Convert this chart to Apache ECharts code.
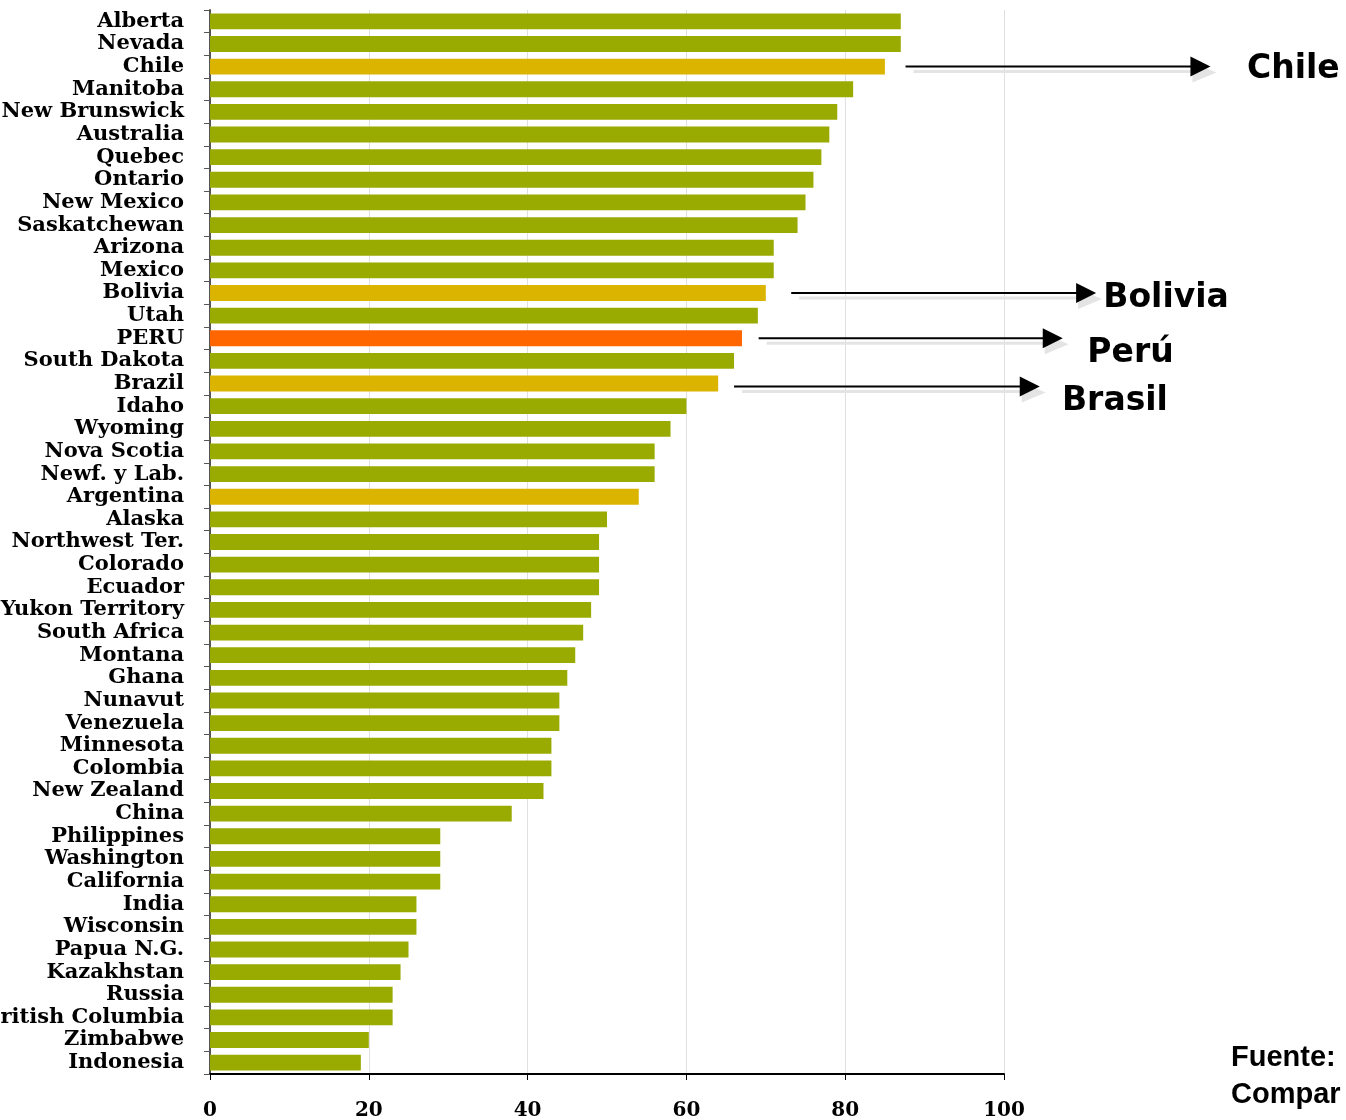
<!DOCTYPE html>
<html>
<head>
<meta charset="utf-8">
<script src="https://cdn.jsdelivr.net/npm/echarts@6/dist/echarts.min.js"></script>
<style>
html,body{margin:0;padding:0;background:#fff;}
#chart{width:1346px;height:1120px;}
</style>
</head>
<body>
<div id="chart"></div>
<script>
var categories = ['Alberta','Nevada','Chile','Manitoba','New Brunswick','Australia','Quebec','Ontario','New Mexico','Saskatchewan','Arizona','Mexico','Bolivia','Utah','PERU','South Dakota','Brazil','Idaho','Wyoming','Nova Scotia','Newf. y Lab.','Argentina','Alaska','Northwest Ter.','Colorado','Ecuador','Yukon Territory','South Africa','Montana','Ghana','Nunavut','Venezuela','Minnesota','Colombia','New Zealand','China','Philippines','Washington','California','India','Wisconsin','Papua N.G.','Kazakhstan','Russia','British Columbia','Zimbabwe','Indonesia'];
var values = [87,87,85,81,79,78,77,76,75,74,71,71,70,69,67,66,64,60,58,56,56,54,50,49,49,49,48,47,46,45,44,44,43,43,42,38,29,29,29,26,26,25,24,23,23,20,19];
var goldCategories = ['Chile','Bolivia','Brazil','Argentina'];
var orangeCategories = ['PERU'];
var xTicks = [0,20,40,60,80,100];

// annotations
var annCategories = ['Chile','Bolivia','PERU','Brazil'];
var annLabels = ['Chile','Bolivia','Perú','Brasil'];
var annStart = [87.6,73.2,69.1,66.0];
var annEnd = [126.0,111.6,107.4,104.5];
var annArrowDy = [0,0,0,3];
var annTextX = [130.6,112.5,110.5,107.3];
var annTextDy = [3,5,15,18];

var GREEN = '#99AA00', GOLD = '#DBB400', ORANGE = '#FF6600';

var chart = echarts.init(document.getElementById('chart'));
var data = categories.map(function(c, i){
  var col = GREEN;
  if (goldCategories.indexOf(c) >= 0) col = GOLD;
  if (orangeCategories.indexOf(c) >= 0) col = ORANGE;
  return {value: values[i], itemStyle: {color: col}};
});

chart.setOption({
  animation: false,
  backgroundColor: '#ffffff',
  grid: {left: 210, right: 342, top: 10, bottom: 46, containLabel: false, outerBoundsMode: 'none'},
  xAxis: {
    type: 'value', min: 0, max: 100, interval: 20,
    axisLine: {show: true, lineStyle: {color: '#000', width: 2}},
    axisTick: {show: true, length: 6, lineStyle: {color: '#000', width: 1}},
    axisLabel: {margin: 27, fontFamily: 'DejaVu Serif', fontWeight: 'bold', fontSize: 20, color: '#000',
      formatter: function(v){ return xTicks.indexOf(v) >= 0 ? String(v) : ''; }},
    splitLine: {show: true, lineStyle: {color: '#e0e0e0', width: 1}}
  },
  yAxis: {
    type: 'category', data: categories, inverse: true,
    axisLine: {show: true, lineStyle: {color: '#555', width: 2}},
    axisTick: {show: true, length: 6, alignWithLabel: false, lineStyle: {color: '#555', width: 1}},
    axisLabel: {margin: 26, fontFamily: 'DejaVu Serif', fontWeight: 'bold', fontSize: 21, color: '#000', interval: 0, padding: [0,0,3,0]}
  },
  series: [{
    type: 'bar', data: data, barCategoryGap: '30%'
  }]
});

var g = [];
annCategories.forEach(function(c, i){
  var p0 = chart.convertToPixel({xAxisIndex:0, yAxisIndex:0}, [annStart[i], c]);
  var p1 = chart.convertToPixel({xAxisIndex:0, yAxisIndex:0}, [annEnd[i], c]);
  var pt = chart.convertToPixel({xAxisIndex:0, yAxisIndex:0}, [annTextX[i], c]);
  var y = p0[1] + annArrowDy[i];
  var x0 = p0[0], x1 = p1[0];
  g.push({type:'line', shape:{x1:x0+8, y1:y+5, x2:x1-14, y2:y+5}, style:{stroke:'#e4e4e4', lineWidth:3}, z:100});
  g.push({type:'polygon', shape:{points:[[x1-18,y-4],[x1+6,y+6],[x1-18,y+16]]}, style:{fill:'#e4e4e4'}, z:100});
  g.push({type:'line', shape:{x1:x0, y1:y, x2:x1-16, y2:y}, style:{stroke:'#000', lineWidth:2}, z:101});
  g.push({type:'polygon', shape:{points:[[x1-20,y-10],[x1,y],[x1-20,y+10]]}, style:{fill:'#000'}, z:101});
  g.push({type:'text', x: pt[0], y: p0[1] + annTextDy[i], style:{text: annLabels[i], font: 'bold 33px "DejaVu Sans"', fill:'#000', textVerticalAlign:'middle', textAlign:'left'}, z:102});
});
g.push({type:'text', x:1231, y:1058, style:{text:'Fuente:', font:'bold 29px "Liberation Sans"', fill:'#000', textVerticalAlign:'middle', textAlign:'left'}, z:102});
g.push({type:'text', x:1231, y:1095, style:{text:'Compar', font:'bold 29px "Liberation Sans"', fill:'#000', textVerticalAlign:'middle', textAlign:'left'}, z:102});
chart.setOption({graphic: g});
</script>
</body>
</html>
